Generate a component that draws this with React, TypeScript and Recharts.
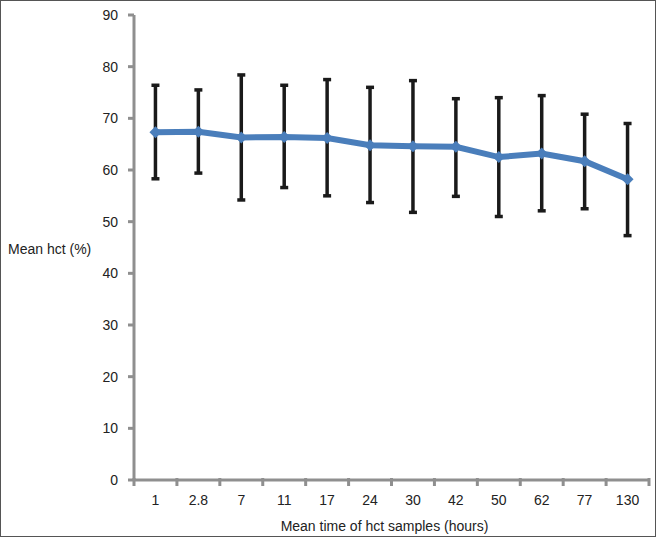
import { LineChart, Line, XAxis, YAxis, ErrorBar, Label } from "recharts"

const categories = ["1", "2.8", "7", "11", "17", "24", "30", "42", "50", "62", "77", "130"]
const meanHct = [67.3, 67.4, 66.3, 66.4, 66.2, 64.8, 64.6, 64.5, 62.5, 63.2, 61.7, 58.2]
const upperHct = [76.4, 75.5, 78.4, 76.4, 77.5, 76.0, 77.3, 73.8, 74.0, 74.4, 70.8, 69.0]
const lowerHct = [58.3, 59.4, 54.2, 56.6, 55.0, 53.7, 51.8, 54.9, 51.0, 52.1, 52.5, 47.3]
const yTicks = [0, 10, 20, 30, 40, 50, 60, 70, 80, 90]

const data = categories.map((name, i) => ({
  name,
  mean: meanHct[i],
  err: [meanHct[i] - lowerHct[i], upperHct[i] - meanHct[i]],
}))

const AXIS_COLOR = "#8f8f8f"
const TEXT_COLOR = "#222"
const HALF_STEP = 21.45 // half the category width, ticks sit on boundaries

const Diamond = (props: any) => {
  const { cx, cy } = props
  if (cx == null || cy == null) return null
  const s = 6
  return (
    <polygon
      points={`${cx},${cy - s} ${cx + s},${cy} ${cx},${cy + s} ${cx - s},${cy}`}
      fill="#4a7ebb"
    />
  )
}

const XTick = (props: any) => {
  const { x, y, payload, index } = props
  const axisY = y - 14
  return (
    <g>
      <line x1={x - HALF_STEP} x2={x - HALF_STEP} y1={axisY - 2} y2={axisY + 6} stroke={AXIS_COLOR} strokeWidth={3} />
      {index === categories.length - 1 && (
        <line x1={x + HALF_STEP} x2={x + HALF_STEP} y1={axisY - 2} y2={axisY + 6} stroke={AXIS_COLOR} strokeWidth={3} />
      )}
      <text x={x} y={axisY + 25} textAnchor="middle" fill={TEXT_COLOR} fontSize={14}>
        {payload.value}
      </text>
    </g>
  )
}

export default function App() {
  return (
    <div
      style={{
        position: "absolute",
        left: 0,
        top: 0,
        width: 656,
        height: 537,
        boxSizing: "border-box",
        border: "1px solid #555",
        background: "#fff",
        fontFamily: "'Liberation Sans', Arial, sans-serif",
      }}
    >
      <div style={{ position: "absolute", left: -1, top: -1 }}>
        <LineChart width={656} height={537} data={data} margin={{ top: 15, right: 7, left: 0, bottom: 0 }}>
          <XAxis
            dataKey="name"
            height={57}
            padding={{ left: HALF_STEP, right: HALF_STEP }}
            axisLine={{ stroke: AXIS_COLOR, strokeWidth: 3 }}
            tickLine={false}
            tickSize={6}
            tickMargin={8}
            tick={<XTick />}
            interval={0}
          >
            <Label
              value="Mean time of hct samples (hours)"
              position="insideBottom"
              offset={6}
              dx={-7}
              style={{ fill: TEXT_COLOR, fontSize: 14 }}
            />
          </XAxis>
          <YAxis
            width={134}
            domain={[0, 90]}
            ticks={yTicks}
            interval={0}
            axisLine={{ stroke: AXIS_COLOR, strokeWidth: 3 }}
            tickLine={{ stroke: AXIS_COLOR, strokeWidth: 3 }}
            tickSize={6}
            tickMargin={10}
            tick={{ fill: TEXT_COLOR, fontSize: 14 }}
          >
            <Label
              value="Mean hct (%)"
              position="insideLeft"
              offset={8}
              dy={2}
              style={{ fill: TEXT_COLOR, fontSize: 14, textAnchor: "start" }}
            />
          </YAxis>
          <Line dataKey="mean" stroke="none" dot={false} activeDot={false} isAnimationActive={false}>
            <ErrorBar dataKey="err" width={4} stroke="#1a1a1a" strokeWidth={3.5} direction="y" />
          </Line>
          <Line
            dataKey="mean"
            stroke="#4a7ebb"
            strokeWidth={6}
            dot={<Diamond />}
            activeDot={false}
            isAnimationActive={false}
          />
        </LineChart>
      </div>
    </div>
  )
}
